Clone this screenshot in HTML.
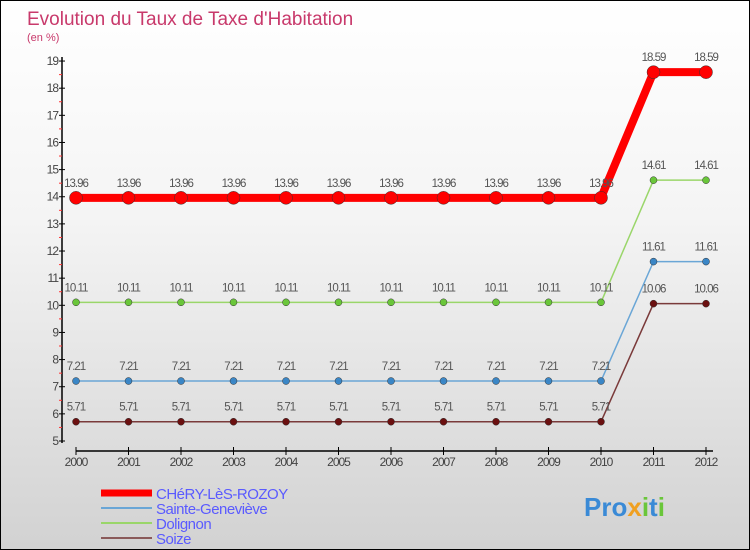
<!DOCTYPE html>
<html><head><meta charset="utf-8"><style>
body{margin:0}
#c{width:750px;height:550px;position:relative;box-sizing:border-box;border:1px solid #000;background:linear-gradient(#ffffff,#f4f4f4 40%,#d2d2d2);font-family:"Liberation Sans",sans-serif;overflow:hidden}
</style></head><body>
<div id="c">
<svg id="s" width="750" height="550" style="position:absolute;left:0;top:0">
<text x="26" y="24" font-size="19" fill="#c8396b">Evolution du Taux de Taxe d'Habitation</text>
<text x="26" y="40" font-size="11" fill="#c8396b">(en %)</text>
</svg>
</div>
<script>
const years=["2000","2001","2002","2003","2004","2005","2006","2007","2008","2009","2010","2011","2012"];
const chery=[13.96,13.96,13.96,13.96,13.96,13.96,13.96,13.96,13.96,13.96,13.96,18.59,18.59];
const sainte=[7.21,7.21,7.21,7.21,7.21,7.21,7.21,7.21,7.21,7.21,7.21,11.61,11.61];
const dolignon=[10.11,10.11,10.11,10.11,10.11,10.11,10.11,10.11,10.11,10.11,10.11,14.61,14.61];
const soize=[5.71,5.71,5.71,5.71,5.71,5.71,5.71,5.71,5.71,5.71,5.71,10.06,10.06];
const yTicks=[5,6,7,8,9,10,11,12,13,14,15,16,17,18,19];
const names=["CHéRY-LèS-ROZOY","Sainte-Geneviève","Dolignon","Soize"];
const s=document.getElementById('s');const NS="http://www.w3.org/2000/svg";
function X(i){return 75+i*52.5}
function Y(v){return 440-(v-5)*27.14}
function el(t,a,p){const e=document.createElementNS(NS,t);for(const k in a)e.setAttribute(k,a[k]);(p||s).appendChild(e);return e}
let e=el('line',{x1:61,y1:56,x2:61,y2:442,stroke:'#000','stroke-width':1.5});


e=el('line',{x1:75,y1:450,x2:712,y2:450,stroke:'#000','stroke-width':1.5});


yTicks.forEach(v=>{
 el('line',{x1:58,y1:Y(v),x2:64,y2:Y(v),stroke:'#000'});
 if(v<19)el('line',{x1:58,y1:Y(v+0.5),x2:61,y2:Y(v+0.5),stroke:'#f33'});
 const t=el('text',{x:57,y:Y(v)+4,'font-size':12,'text-anchor':'end',fill:'#444','letter-spacing':'-1'});t.textContent=v;
 
 
});
years.forEach((y,i)=>{
 el('line',{x1:X(i),y1:446,x2:X(i),y2:454,stroke:'#000'});
 const t=el('text',{x:X(i),y:465,'font-size':12,'text-anchor':'middle',fill:'#444','letter-spacing':'-1'});t.textContent=y;
 
 
});
const series=[[soize,'#7a3a3a','#6b1010',1.5,3.5,'soize'],[sainte,'#6aa6d6','#3a86c6',1.5,3.5,'sainte-genevieve'],[dolignon,'#9ad66a','#6ac63a',1.5,3.5,'dolignon'],[chery,'#ff0000','#ff0000',8,6.5,'chery-les-rozoy']];
series.forEach(([d,lc,pc,w,r,n])=>{
 const p=el('polyline',{points:d.map((v,i)=>X(i)+','+Y(v)).join(' '),fill:'none',stroke:lc,'stroke-width':w});
 
 
 d.forEach((v,i)=>{
  const c=el('circle',{cx:X(i),cy:Y(v),r:r,fill:pc,stroke:'#333','stroke-width':0.5});
  
  
  const t=el('text',{x:X(i),y:Y(v)-11,'font-size':11.5,'text-anchor':'middle',fill:'#555','letter-spacing':'-1'});
  t.textContent=v.toFixed(2);
  
  
 });
});
const lg=[['#ff0000',7],['#6aa6d6',2],['#9ad66a',2],['#8a5a5a',2]];
lg.forEach(([c,w],i)=>{
 const y=492+i*15;
 el('line',{x1:100,y1:y,x2:151,y2:y,stroke:c,'stroke-width':w});
 const t=el('text',{x:155,y:y+6,'font-size':15,fill:'#5a5aff','letter-spacing':'-0.5'});t.textContent=names[i];
 
 
});
const lo=el('text',{x:583,y:515,'font-size':26,'font-weight':'bold',fill:'#3a8ad6'});


lo.innerHTML='Pro<tspan fill="#f0a020">x</tspan><tspan fill="#6ac63a">i</tspan>t<tspan fill="#6ac63a">i</tspan>';
</script>
</body></html>
